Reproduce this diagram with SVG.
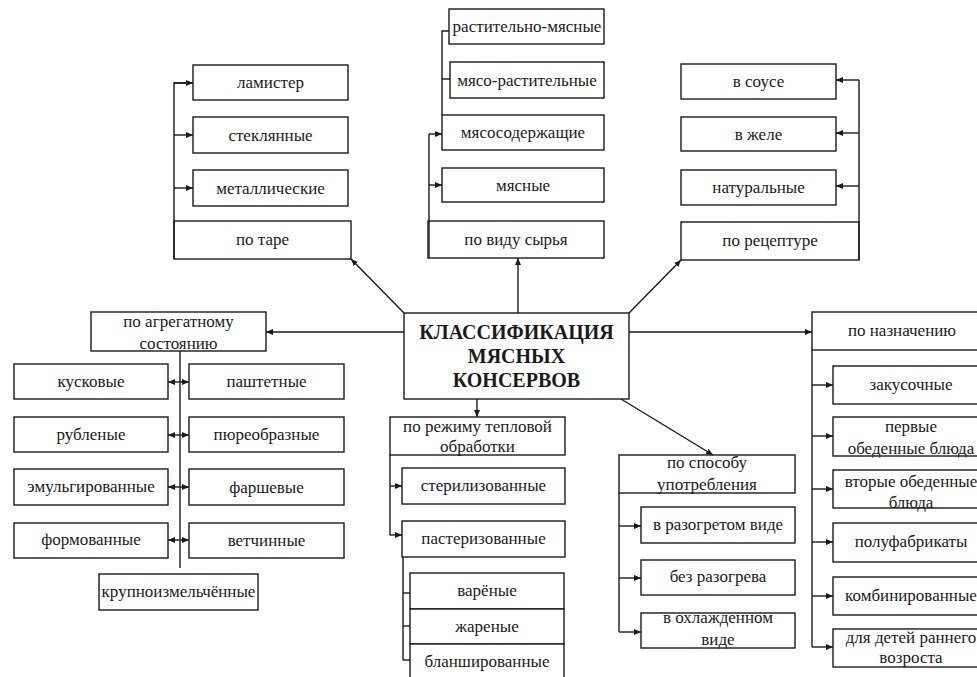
<svg xmlns="http://www.w3.org/2000/svg" width="977" height="677" viewBox="0 0 977 677">
  <style>
    .box { fill: #fff; stroke: #1a1a1a; stroke-width: 1.4; }
    .t { font-family: "Liberation Serif", "Times New Roman", serif; font-size: 17px; fill: #1a1a1a; text-anchor: middle; }
    .ttl { font-weight: bold; font-size: 20px; }
    .ln { stroke: #1a1a1a; stroke-width: 1.4; fill: none; }
    .arr { marker-end: url(#ah); }
  </style>
  <defs>
    <marker id="ah" markerUnits="userSpaceOnUse" markerWidth="8" markerHeight="7" refX="7" refY="3" orient="auto">
      <path d="M0,0 L7,3 L0,6 z" fill="#1a1a1a"/>
    </marker>
  </defs>
  <rect width="977" height="677" fill="#fff"/>

  <!-- central node -->
  <g id="center">
    <rect class="box" x="404" y="313" width="225" height="86"/>
    <text class="t ttl" x="516.5" y="339">КЛАССИФИКАЦИЯ</text>
    <text class="t ttl" x="516.5" y="363">МЯСНЫХ</text>
    <text class="t ttl" x="516.5" y="387">КОНСЕРВОВ</text>
  </g>

  <!-- by container -->
  <g id="po-tare">
    <rect class="box" x="174" y="221" width="177" height="38"/>
    <text class="t" x="262.5" y="245">по таре</text>
  </g>
  <g id="lamister">
    <rect class="box" x="193" y="65" width="155" height="35"/>
    <text class="t" x="270.5" y="88">ламистер</text>
  </g>
  <g id="steklyannye">
    <rect class="box" x="193" y="117" width="155" height="36"/>
    <text class="t" x="270.5" y="141">стеклянные</text>
  </g>
  <g id="metallicheskie">
    <rect class="box" x="193" y="170" width="155" height="36"/>
    <text class="t" x="270.5" y="194">металлические</text>
  </g>

  <!-- by raw material -->
  <g id="po-vidu-syrya">
    <rect class="box" x="428" y="221" width="176" height="37"/>
    <text class="t" x="516" y="245">по виду сырья</text>
  </g>
  <g id="rastitelno-myasnye">
    <rect class="box" x="449" y="9" width="155" height="35"/>
    <text class="t" x="527" y="32">растительно-мясные</text>
  </g>
  <g id="myaso-rastitelnye">
    <rect class="box" x="450" y="62" width="154" height="36"/>
    <text class="t" x="527" y="86">мясо-растительные</text>
  </g>
  <g id="myasosoderzhashchie">
    <rect class="box" x="442" y="115" width="162" height="35"/>
    <text class="t" x="523" y="138">мясосодержащие</text>
  </g>
  <g id="myasnye">
    <rect class="box" x="442" y="168" width="162" height="34"/>
    <text class="t" x="523" y="191">мясные</text>
  </g>

  <!-- by recipe -->
  <g id="po-recepture">
    <rect class="box" x="681" y="222" width="178" height="38"/>
    <text class="t" x="770" y="246">по рецептуре</text>
  </g>
  <g id="v-souse">
    <rect class="box" x="681" y="64" width="155" height="35"/>
    <text class="t" x="758.5" y="87">в соусе</text>
  </g>
  <g id="v-zhele">
    <rect class="box" x="681" y="117" width="155" height="34"/>
    <text class="t" x="758.5" y="140">в желе</text>
  </g>
  <g id="naturalnye">
    <rect class="box" x="681" y="170" width="155" height="35"/>
    <text class="t" x="758.5" y="193">натуральные</text>
  </g>

  <!-- by physical state -->
  <g id="po-agregatnomu">
    <rect class="box" x="91" y="312" width="175" height="39"/>
    <text class="t" x="178.5" y="327">по агрегатному</text>
    <text class="t" x="178.5" y="349">состоянию</text>
  </g>
  <g id="kuskovye">
    <rect class="box" x="14" y="364" width="154" height="35"/>
    <text class="t" x="91" y="387">кусковые</text>
  </g>
  <g id="pashtetnye">
    <rect class="box" x="189" y="364" width="155" height="35"/>
    <text class="t" x="266.5" y="387">паштетные</text>
  </g>
  <g id="rublenye">
    <rect class="box" x="14" y="417" width="154" height="35"/>
    <text class="t" x="91" y="440">рубленые</text>
  </g>
  <g id="pyureobraznye">
    <rect class="box" x="189" y="417" width="155" height="35"/>
    <text class="t" x="266.5" y="440">пюреобразные</text>
  </g>
  <g id="emulgirovannye">
    <rect class="box" x="14" y="469" width="154" height="36"/>
    <text class="t" x="91" y="492">эмульгированные</text>
  </g>
  <g id="farshevye">
    <rect class="box" x="189" y="469" width="155" height="36"/>
    <text class="t" x="266.5" y="493">фаршевые</text>
  </g>
  <g id="formovannye">
    <rect class="box" x="14" y="523" width="154" height="35"/>
    <text class="t" x="91" y="545">формованные</text>
  </g>
  <g id="vetchinnye">
    <rect class="box" x="189" y="523" width="155" height="35"/>
    <text class="t" x="266.5" y="546">ветчинные</text>
  </g>
  <g id="krupnoizmelchennye">
    <rect class="box" x="99" y="574" width="159" height="36"/>
    <text class="t" x="178.5" y="597">крупноизмельчённые</text>
  </g>

  <!-- by heat treatment -->
  <g id="po-rezhimu">
    <rect class="box" x="390" y="417" width="175" height="38"/>
    <text class="t" x="477.5" y="432">по режиму тепловой</text>
    <text class="t" x="477.5" y="452">обработки</text>
  </g>
  <g id="sterilizovannye">
    <rect class="box" x="402" y="468" width="163" height="36"/>
    <text class="t" x="483.5" y="491">стерилизованные</text>
  </g>
  <g id="pasterizovannye">
    <rect class="box" x="402" y="521" width="163" height="36"/>
    <text class="t" x="483.5" y="544">пастеризованные</text>
  </g>
  <g id="varenye">
    <rect class="box" x="410" y="573" width="154" height="36"/>
    <text class="t" x="487" y="596">варёные</text>
  </g>
  <g id="zharenye">
    <rect class="box" x="410" y="609" width="154" height="35"/>
    <text class="t" x="487" y="632">жареные</text>
  </g>
  <g id="blanshirovannye">
    <rect class="box" x="410" y="644" width="154" height="36"/>
    <text class="t" x="487" y="667">бланшированные</text>
  </g>

  <!-- by way of consumption -->
  <g id="po-sposobu">
    <rect class="box" x="619" y="455" width="176" height="38"/>
    <text class="t" x="707" y="468">по способу</text>
    <text class="t" x="707" y="490">употребления</text>
  </g>
  <g id="v-razogretom">
    <rect class="box" x="641" y="507" width="154" height="36"/>
    <text class="t" x="718" y="530">в разогретом виде</text>
  </g>
  <g id="bez-razogreva">
    <rect class="box" x="641" y="560" width="154" height="35"/>
    <text class="t" x="718" y="582">без разогрева</text>
  </g>
  <g id="v-ohlazhdennom">
    <rect class="box" x="641" y="613" width="154" height="35"/>
    <text class="t" x="718" y="623">в охлажденном</text>
    <text class="t" x="718" y="645">виде</text>
  </g>

  <!-- by purpose -->
  <g id="po-naznacheniyu">
    <rect class="box" x="812" y="312" width="180" height="38"/>
    <text class="t" x="902" y="336">по назначению</text>
  </g>
  <g id="zakusochnye">
    <rect class="box" x="833" y="366" width="158" height="38"/>
    <text class="t" x="911" y="390">закусочные</text>
  </g>
  <g id="pervye">
    <rect class="box" x="833" y="417" width="158" height="39"/>
    <text class="t" x="911" y="432">первые</text>
    <text class="t" x="911" y="454">обеденные блюда</text>
  </g>
  <g id="vtorye">
    <rect class="box" x="833" y="470" width="158" height="38"/>
    <text class="t" x="911" y="487">вторые обеденные</text>
    <text class="t" x="911" y="508">блюда</text>
  </g>
  <g id="polufabrikaty">
    <rect class="box" x="833" y="523" width="158" height="39"/>
    <text class="t" x="911" y="547">полуфабрикаты</text>
  </g>
  <g id="kombinirovannye">
    <rect class="box" x="833" y="577" width="158" height="38"/>
    <text class="t" x="911" y="601">комбинированные</text>
  </g>
  <g id="deti">
    <rect class="box" x="833" y="629" width="158" height="38"/>
    <text class="t" x="911" y="643">для детей раннего</text>
    <text class="t" x="911" y="663">возроста</text>
  </g>

  <!-- connectors -->
  <g id="connectors">
    <!-- from the central node -->
    <line class="ln arr" x1="404" y1="313" x2="351" y2="259"/>
    <line class="ln arr" x1="518" y1="313" x2="518" y2="258"/>
    <line class="ln arr" x1="629" y1="313" x2="681" y2="260"/>
    <line class="ln arr" x1="404" y1="332" x2="266" y2="332"/>
    <line class="ln arr" x1="629" y1="332" x2="812" y2="332"/>
    <line class="ln arr" x1="477" y1="399" x2="477" y2="417"/>
    <line class="ln arr" x1="621" y1="399" x2="713" y2="455"/>

    <!-- container branch -->
    <polyline class="ln" points="193,83 174,83 174,259"/>
    <line class="ln arr" x1="174" y1="83" x2="193" y2="83"/>
    <line class="ln arr" x1="174" y1="135" x2="193" y2="135"/>
    <line class="ln arr" x1="174" y1="188" x2="193" y2="188"/>

    <!-- raw material branch -->
    <polyline class="ln" points="449,31 442,31 442,115"/>
    <line class="ln" x1="442" y1="79" x2="450" y2="79"/>
    <line class="ln" x1="429" y1="134" x2="429" y2="258"/>
    <line class="ln arr" x1="429" y1="134" x2="442" y2="134"/>
    <line class="ln arr" x1="429" y1="185" x2="442" y2="185"/>

    <!-- recipe branch -->
    <line class="ln" x1="859" y1="80" x2="859" y2="260"/>
    <line class="ln arr" x1="859" y1="80" x2="836" y2="80"/>
    <line class="ln arr" x1="859" y1="133" x2="836" y2="133"/>
    <line class="ln arr" x1="859" y1="186" x2="836" y2="186"/>

    <!-- physical state branch -->
    <line class="ln" x1="180" y1="351" x2="180" y2="568"/>
    <line class="ln arr" x1="180" y1="382" x2="168" y2="382"/>
    <line class="ln arr" x1="180" y1="382" x2="189" y2="382"/>
    <line class="ln arr" x1="180" y1="435" x2="168" y2="435"/>
    <line class="ln arr" x1="180" y1="435" x2="189" y2="435"/>
    <line class="ln arr" x1="180" y1="487" x2="168" y2="487"/>
    <line class="ln arr" x1="180" y1="487" x2="189" y2="487"/>
    <line class="ln arr" x1="180" y1="540" x2="168" y2="540"/>
    <line class="ln arr" x1="180" y1="540" x2="189" y2="540"/>

    <!-- heat treatment branch -->
    <line class="ln" x1="390" y1="455" x2="390" y2="535"/>
    <line class="ln arr" x1="390" y1="486" x2="402" y2="486"/>
    <line class="ln arr" x1="390" y1="535" x2="402" y2="535"/>
    <line class="ln" x1="403" y1="557" x2="403" y2="660"/>
    <line class="ln" x1="403" y1="593" x2="410" y2="593"/>
    <line class="ln" x1="403" y1="626" x2="410" y2="626"/>
    <line class="ln" x1="403" y1="660" x2="410" y2="660"/>

    <!-- consumption branch -->
    <line class="ln" x1="619" y1="493" x2="619" y2="632"/>
    <line class="ln arr" x1="619" y1="526" x2="641" y2="526"/>
    <line class="ln arr" x1="619" y1="578" x2="641" y2="578"/>
    <line class="ln arr" x1="619" y1="632" x2="641" y2="632"/>

    <!-- purpose branch -->
    <line class="ln" x1="812" y1="350" x2="812" y2="647"/>
    <line class="ln arr" x1="812" y1="385" x2="833" y2="385"/>
    <line class="ln arr" x1="812" y1="436" x2="833" y2="436"/>
    <line class="ln arr" x1="812" y1="489" x2="833" y2="489"/>
    <line class="ln arr" x1="812" y1="542" x2="833" y2="542"/>
    <line class="ln arr" x1="812" y1="596" x2="833" y2="596"/>
    <line class="ln arr" x1="812" y1="647" x2="833" y2="647"/>
  </g>
</svg>
